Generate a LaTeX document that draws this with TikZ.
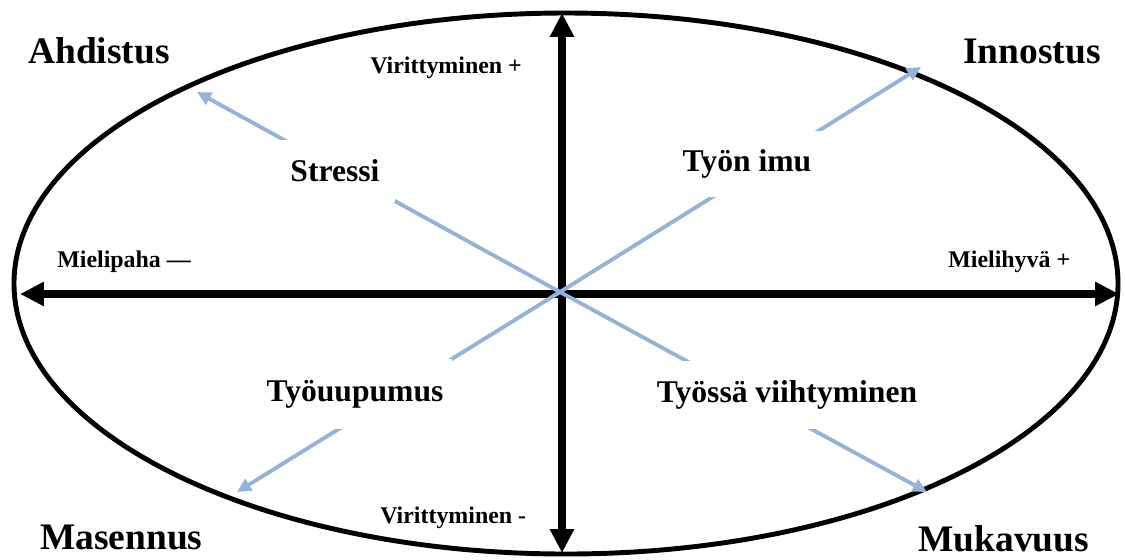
\documentclass[tikz,border=0pt]{standalone}
\usepackage{fontspec}
\setmainfont{Liberation Serif}
\usetikzlibrary{arrows.meta}
\newcommand\pxu{0.5669pt}
\definecolor{lineblue}{RGB}{149,179,215}
\tikzset{
  cornerlbl/.style={inner sep=0pt, anchor=base west, font=\fontsize{21.3}{25}\selectfont\bfseries},
  axislbl/.style={inner sep=0pt, anchor=base west, font=\fontsize{13.6}{16}\selectfont\bfseries},
  midlbl/.style={inner sep=0pt, fill=white, font=\fontsize{18}{21}\selectfont\bfseries},
  axisline/.style={line width=4.2pt, {Triangle[length=13.6pt,width=13pt]}-{Triangle[length=13.6pt,width=13pt]}},
  bluearrow/.style={line width=2.2pt, draw=lineblue, -{Triangle[length=8pt,width=7.5pt]}},
}
\begin{document}
\begin{tikzpicture}[x=0.02cm, y=-0.02cm]
\useasboundingbox (0,0) rectangle (1125,559);
% ellipse
\draw[line width=2.8pt] (566,283.5) ellipse [x radius=552, y radius=270.5];
% axes
\coordinate (top) at (562,13);
\coordinate (bottom) at (562,553);
\coordinate (left) at (20,294);
\coordinate (right) at (1119,294);
\draw[axisline] (bottom) -- (top);
\draw[axisline] (left) -- (right);
% blue arrows
\coordinate (o) at (560,292);
\coordinate (tl) at (197,92);
\coordinate (tr) at (921,67);
\coordinate (bl) at (237,492);
\coordinate (br) at (927,492);
\draw[bluearrow] (o) -- (tl);
\draw[bluearrow] (o) -- (tr);
\draw[bluearrow] (o) -- (bl);
\draw[bluearrow] (o) -- (br);
% middle labels on white boxes
\node[midlbl, minimum width=120*\pxu, minimum height=62*\pxu] (stressi) at (335,171) {Stressi};
\node[midlbl, minimum width=155*\pxu, minimum height=67*\pxu] (imu) at (747,164) {Työn imu};
\node[midlbl, minimum width=195*\pxu, minimum height=70*\pxu] (uupumus) at (355,394) {Työuupumus};
\node[midlbl, minimum width=275*\pxu, minimum height=68*\pxu] (viiht) at (787,395) {Työssä viihtyminen};
% corner labels
\node[cornerlbl] (ahd) at (28,63) {Ahdistus};
\node[cornerlbl] (inn) at (963,63) {Innostus};
\node[cornerlbl] (mas) at (40,549) {Masennus};
\node[cornerlbl] (muk) at (918,551) {Mukavuus};
% axis labels
\node[axislbl] (virp) at (370,73) {Virittyminen +};
\node[axislbl] (virm) at (380,523) {Virittyminen -};
\node[axislbl] (mpa) at (57,267) {Mielipaha —};
\node[axislbl] (mhy) at (948,267) {Mielihyvä +};
\end{tikzpicture}
\end{document}
